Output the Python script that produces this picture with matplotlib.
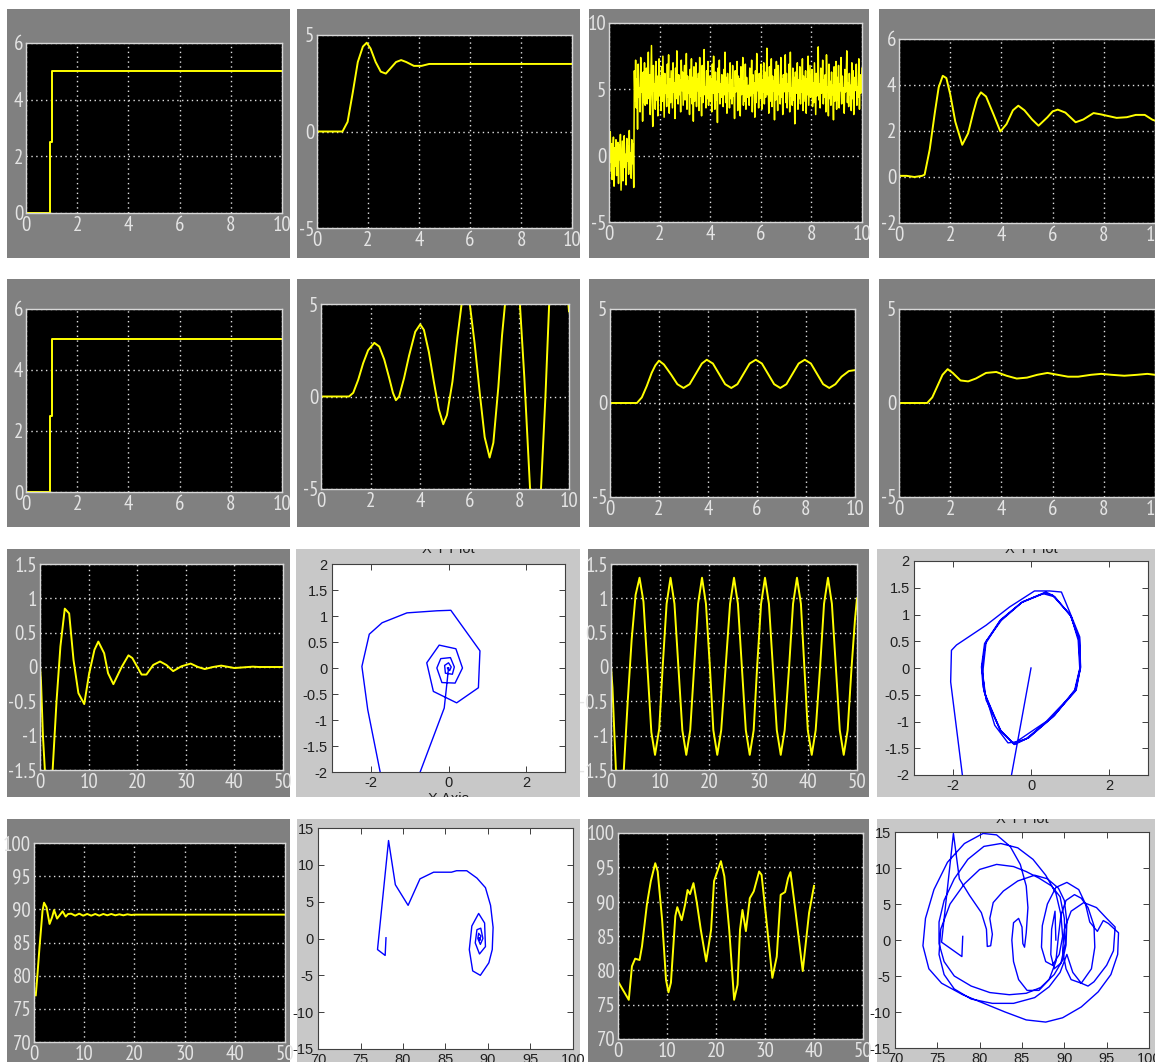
"""Grid of Simulink scope / XY-graph screenshots redrawn with matplotlib."""

import matplotlib
matplotlib.use("Agg")
import matplotlib.pyplot as plt
import numpy as np

W, H = 1155, 1062
plt.rcParams["axes.unicode_minus"] = False

SCOPE_BG = "#808080"
XY_BG = "#c8c8c8"
TRACE = "#ffff00"
XY_LINE = "#0000ff"
SCOPE_FONT = ["Liberation Sans Narrow", "PT Sans Narrow", "Roboto Condensed",
              "Archivo Narrow", "DejaVu Sans"]
XY_FONT = ["Liberation Sans", "DejaVu Sans"]

# ---- data ----
step_t = [0, 0.94, 0.94, 1.0, 1.0, 10]
step_y = [0, 0, 2.5, 2.5, 5, 5]

pid_t = [0, 1.0, 1.2, 1.4, 1.6, 1.8, 1.95, 2.1, 2.3, 2.5, 2.7, 2.9, 3.1, 3.3,
         3.5, 3.8, 4.1, 4.4, 4.8, 5.2, 10]
pid_y = [0, 0, 0.5, 2.0, 3.6, 4.4, 4.6, 4.3, 3.6, 3.1, 3.0, 3.3, 3.6, 3.7,
         3.6, 3.4, 3.4, 3.5, 3.5, 3.5, 3.5]

noise_pre = [0.3, -1.2, 1.8, -0.5, 0.9, -1.8, 0.2, 1.4, -2.3, 0.6,
             -0.8, 1.2, -1.5, 0.4, 1.0, -2.1, 0.8, -0.3, 1.6, -2.6,
             -0.7, 1.1, -1.9, 0.5, 1.5, -0.9, 0.1, -2.2, 1.3, -0.4,
             0.7, -1.4, 1.9, -1.0, 0.2, -1.7, 1.2, -0.6, 0.9, -2.4]
noise_post = [
    6.4, 4.1, 7.2, 3.6, 5.8, 2.0, 6.9, 4.4, 5.1, 3.3, 7.4, 4.8, 5.9, 2.6, 6.3, 4.0, 7.0, 3.8, 5.5, 6.6,
    3.9, 5.2, 7.8, 4.3, 6.1, 3.1, 5.7, 8.3, 4.6, 2.2, 6.8, 4.9, 5.4, 3.5, 7.1, 4.2, 6.0, 3.0, 5.6, 7.3,
    4.5, 5.9, 3.4, 6.7, 4.1, 7.5, 5.0, 2.9, 6.2, 4.7, 5.3, 3.7, 6.9, 4.4, 7.6, 3.2, 5.8, 4.0, 6.4, 5.1,
    3.6, 7.0, 4.8, 5.5, 2.8, 6.6, 4.3, 7.9, 5.2, 3.9, 6.1, 4.6, 5.7, 3.3, 7.2, 4.9, 6.3, 3.8, 5.4, 6.8,
    4.2, 5.0, 7.7, 3.5, 6.0, 4.7, 5.6, 3.1, 6.5, 4.4, 7.3, 3.9, 5.9, 2.6, 6.7, 4.1, 5.3, 7.0, 3.7, 5.8,
    4.9, 6.2, 3.4, 7.4, 4.5, 5.1, 3.0, 6.8, 4.0, 5.7, 8.0, 4.6, 5.2, 3.6, 6.4, 4.3, 7.1, 3.8, 5.5, 6.0,
    4.1, 5.8, 3.3, 6.9, 4.7, 7.5, 5.0, 3.5, 6.3, 4.2, 5.6, 2.5, 6.6, 4.8, 7.2, 3.9, 5.4, 4.4, 6.1, 5.2,
    3.7, 6.5, 4.6, 7.8, 4.0, 5.9, 3.2, 6.2, 4.9, 5.3, 3.6, 7.0, 4.3, 5.7, 3.9, 6.8, 4.5, 5.1, 2.8, 6.4,
    4.8, 5.5, 7.1, 3.4, 6.0, 4.2, 5.8, 3.0, 6.7, 4.6, 5.2, 7.4, 3.8, 5.6, 4.1, 6.9, 3.5, 5.9, 4.4, 5.0,
    5.3, 3.8, 6.6, 4.5, 5.0, 7.2, 3.3, 6.1, 4.7, 5.5, 2.9, 6.4, 4.0, 7.7, 4.9, 5.8, 3.6, 6.2, 4.3, 5.1,
    6.9, 3.5, 5.7, 4.8, 7.0, 3.9, 6.3, 4.4, 5.2, 8.1, 4.6, 5.9, 3.2, 6.7, 4.1, 5.4, 7.3, 3.7, 6.0, 4.9,
    5.6, 2.7, 6.5, 4.2, 7.1, 5.0, 3.4, 6.8, 4.6, 5.3, 3.9, 7.4, 4.4, 5.8, 3.1, 6.1, 4.8, 5.5, 7.6, 4.0,
    6.2, 3.6, 5.4, 4.9, 6.9, 3.3, 7.8, 4.5, 5.1, 3.8, 6.6, 4.2, 5.9, 2.4, 6.3, 4.7, 5.2, 7.0, 3.5, 5.7,
    4.3, 6.7, 3.9, 5.6, 4.8, 7.3, 3.4, 6.0, 5.0, 4.1, 6.4, 3.2, 5.8, 4.6, 7.5, 3.8, 5.3, 6.8, 4.4, 5.1,
    6.5, 3.7, 5.5, 4.0, 7.0, 4.9, 3.1, 6.2, 4.5, 5.9, 8.2, 4.2, 5.4, 3.6, 6.6, 4.7, 5.0, 7.2, 3.9, 5.7,
    4.4, 6.1, 3.3, 7.6, 4.8, 5.2, 3.0, 6.9, 4.3, 5.6, 3.8, 6.3, 4.6, 5.3, 2.7, 6.7, 4.1, 5.8, 7.1, 3.5,
    5.9, 4.2, 6.8, 3.6, 5.4, 4.9, 7.4, 3.9, 6.0, 4.5, 5.1, 3.2, 6.5, 4.8, 5.7, 7.9, 4.0, 5.5, 3.7, 6.2,
    4.6, 5.3, 3.4, 7.0, 4.3, 6.4, 3.1, 5.9, 4.9, 5.6, 6.9, 3.8, 5.2, 4.4, 7.3, 3.5, 6.1, 4.7, 5.0, 6.6,
]
noise_y = noise_pre + noise_post
noise_t = np.linspace(0, 10, len(noise_y))  # scope sample times

damp_t = [0, 0.3, 0.6, 0.9, 1.0, 1.2, 1.4, 1.55, 1.71, 1.85, 2.0, 2.2, 2.47, 2.7, 2.9,
          3.05, 3.2, 3.4, 3.7, 3.96, 4.2, 4.45, 4.66, 4.9, 5.2, 5.45, 5.8, 6.0, 6.2,
          6.5, 6.9, 7.2, 7.6, 7.9, 8.5, 8.9, 9.25, 9.6, 9.9, 10]
damp_y = [0.05, 0.05, 0.0, 0.05, 0.1, 1.2, 2.8, 3.9, 4.4, 4.3, 3.6, 2.4, 1.4, 1.9, 2.8,
          3.4, 3.68, 3.5, 2.7, 1.98, 2.3, 2.9, 3.1, 2.9, 2.5, 2.23, 2.6, 2.85, 2.93,
          2.8, 2.38, 2.5, 2.78, 2.72, 2.57, 2.6, 2.7, 2.7, 2.49, 2.45]

grow_t = [0, 1.13, 1.3, 1.5, 1.7, 1.9, 2.15, 2.35, 2.55, 2.75, 2.9, 3.02, 3.15, 3.35,
          3.55, 3.8, 4.0, 4.15, 4.35, 4.55, 4.75, 4.93, 5.08, 5.3, 5.5, 5.67, 5.85,
          6.0, 6.2, 6.4, 6.6, 6.8, 6.95, 7.15, 7.3, 7.42, 7.6, 7.75, 7.9, 8.02, 8.2,
          8.43, 8.6, 8.7, 8.87, 9.05, 9.2, 9.4, 9.6, 9.8, 10.0]
grow_y = [0, 0, 0.2, 0.9, 1.8, 2.5, 2.9, 2.7, 2.0, 1.0, 0.2, -0.2, 0.0, 1.0,
          2.2, 3.5, 3.9, 3.6, 2.4, 0.8, -0.7, -1.5, -1.0, 0.8, 3.2, 5.0, 5.6,
          5.0, 2.8, 0.2, -2.2, -3.3, -2.5, 0.5, 3.3, 5.0, 7.2, 7.6, 6.8, 5.0, 1.0,
          -5.0, -7.5, -7.8, -5.0, 0.0, 5.0, 8.5, 9.5, 8.0, 4.6]

cyc_t = [0, 1.1, 1.3, 1.5, 1.7, 1.85, 2.0, 2.2, 2.5, 2.75, 3.0, 3.25, 3.5, 3.75, 3.95,
         4.2, 4.45, 4.7, 4.95, 5.2, 5.45, 5.7, 5.95, 6.2, 6.45, 6.7, 6.95, 7.2, 7.45,
         7.7, 7.95, 8.2, 8.45, 8.7, 8.95, 9.2, 9.45, 9.75, 10]
cyc_y = [0, 0, 0.3, 0.9, 1.6, 2.0, 2.25, 2.05, 1.5, 1.0, 0.8, 1.0, 1.55, 2.1, 2.3,
         2.1, 1.55, 1.0, 0.8, 1.0, 1.55, 2.1, 2.3, 2.1, 1.55, 1.0, 0.8, 1.0, 1.55,
         2.1, 2.3, 2.1, 1.55, 1.0, 0.8, 1.0, 1.4, 1.7, 1.75]

settle_t = [0, 1.1, 1.3, 1.5, 1.7, 1.9, 2.1, 2.4, 2.7, 3.0, 3.4, 3.8, 4.2, 4.6, 5.0,
            5.4, 5.8, 6.2, 6.6, 7.0, 7.5, 7.9, 8.3, 8.8, 9.3, 9.7, 10]
settle_y = [0, 0, 0.3, 0.9, 1.5, 1.8, 1.6, 1.2, 1.15, 1.3, 1.6, 1.65, 1.45, 1.3, 1.35,
            1.5, 1.6, 1.5, 1.4, 1.4, 1.5, 1.55, 1.5, 1.45, 1.5, 1.55, 1.5]

osc_t = [0, 0.2, 0.6, 1.0, 1.8, 2.6, 3.4, 4.2, 5.1, 6.0, 6.9, 7.9, 9.1, 10.1, 11.2,
         12.0, 13.2, 14.0, 15.1, 16.8, 18.2, 19.0, 20.9, 21.9, 23.3, 24.7, 26.0,
         27.4, 29.1, 31.0, 32.5, 33.9, 35.6, 37.3, 40.0, 43.8, 45.0, 50.0]
osc_y = [0, -0.2, -1.0, -1.5, -2.3, -1.5, -0.5, 0.3, 0.85, 0.78, 0.1, -0.38, -0.54,
         -0.1, 0.25, 0.37, 0.2, -0.09, -0.25, 0.0, 0.17, 0.13, -0.11, -0.11, 0.03,
         0.08, 0.03, -0.06, 0.01, 0.05, 0.0, -0.03, 0.0, 0.02, -0.015, 0.005, 0.0, 0.0]

sine_t = [0, 0.3, 0.7, 1.0, 1.8, 2.6, 3.4, 4.2, 5.0, 5.8, 6.6, 7.4, 8.2, 8.95, 9.8,
          10.5, 11.3, 12.1, 12.9, 13.7, 14.5, 15.3, 16.1, 16.9, 17.7, 18.5, 19.3,
          20.1, 20.8, 21.6, 22.4, 23.3, 24.2, 25.0, 25.8, 26.6, 27.4, 28.2, 29.0,
          29.7, 30.5, 31.3, 32.1, 32.9, 33.7, 34.5, 35.3, 36.2, 37.0, 37.8, 38.6,
          39.3, 40.0, 40.8, 41.6, 42.5, 43.3, 44.1, 44.9, 45.7, 46.5, 47.3, 48.1,
          48.9, 49.6, 50.0]
sine_y = [0, -0.3, -1.0, -1.5, -2.0, -1.5, -0.5, 0.4, 1.05, 1.3, 0.95, 0.0, -0.95,
          -1.28, -0.9, 0.0, 0.92, 1.3, 0.92, 0.0, -0.92, -1.28, -0.92, 0.0, 0.92,
          1.3, 0.92, 0.0, -0.92, -1.28, -0.92, 0.0, 0.92, 1.3, 0.92, 0.0, -0.92,
          -1.28, -0.92, 0.0, 0.92, 1.3, 0.92, 0.0, -0.92, -1.28, -0.92, 0.0, 0.92,
          1.3, 0.92, 0.0, -0.92, -1.28, -0.92, 0.0, 0.92, 1.3, 0.92, 0.0, -0.92,
          -1.28, -0.92, 0.0, 0.7, 1.0]

spiral_x = [0, -0.03, -0.11, -0.73, -1.2, -1.76, -2.08, -2.23, -2.04, -1.71, -1.07,
            -0.30, 0.06, 0.81, 0.77, 0.21, -0.39, -0.56, -0.24, 0.19, 0.36, 0.17,
            -0.17, -0.3, -0.2, 0.05, 0.15, 0.1, -0.08, -0.1, 0.0, 0.07, 0.03, -0.03, 0.0]
spiral_y = [0, -0.22, -0.77, -2.0, -3.0, -2.0, -0.80, 0.03, 0.65, 0.87, 1.06,
            1.10, 1.11, 0.33, -0.38, -0.67, -0.45, 0.10, 0.44, 0.37, 0.0, -0.29,
            -0.28, 0.0, 0.18, 0.2, 0.02, -0.12, -0.1, 0.05, 0.1, 0.02, -0.05, 0.0, 0.0]

cycle_x = [0, -0.5, -0.9, -1.76, -2.06, -2.04, -1.91, -1.15, -0.55, 0.09, 0.48, 0.78,
           0.99, 1.25, 1.27, 1.16, 0.39, -0.38, -0.59, -0.93, -1.23, -1.27, -1.19,
           -0.76, -0.21, 0.31, 0.61, 1.03, 1.21, 1.25, 1.12, 0.61, -0.12, -0.46,
           -0.76, -1.15, -1.24, -1.15, -0.80, -0.25, 0.35, 0.55, 1.00, 1.24, 1.27,
           1.14, 0.55, -0.05, -0.42, -0.80, -1.18, -1.26, -1.17, -0.78, -0.23, 0.38,
           0.58, 1.02, 1.23, 1.26, 1.13, 0.58, -0.08, -0.44, -0.78, -1.2, -1.25]
cycle_y = [0, -2.0, -3.0, -2.0, -0.26, 0.33, 0.43, 0.80, 1.14, 1.44, 1.44, 1.42,
           1.05, 0.58, 0.02, -0.41, -1.0, -1.38, -1.40, -1.07, -0.35, 0.02, 0.46,
           0.89, 1.24, 1.39, 1.33, 0.96, 0.52, -0.01, -0.41, -0.88, -1.32, -1.41,
           -1.19, -0.60, -0.10, 0.50, 0.88, 1.22, 1.40, 1.36, 1.00, 0.55, 0.0,
           -0.43, -0.92, -1.30, -1.43, -1.15, -0.50, 0.0, 0.45, 0.90, 1.23, 1.42,
           1.35, 0.98, 0.53, 0.0, -0.42, -0.90, -1.31, -1.42, -1.17, -0.45, 0.0]

temp_t = [0, 0.35, 0.7, 1.1, 1.7, 2.0, 2.5, 3.1, 3.6, 4.0, 4.6, 5.1, 5.7, 6.3, 6.8,
          7.4, 8.2, 9.0, 9.8, 10.6, 11.4, 12.2, 13.0, 13.8, 14.6, 15.4, 16.2, 17.0,
          17.8, 18.6, 19.4, 20.0, 50.0]
temp_y = [77.5, 77.0, 80.3, 84.3, 89.8, 91.0, 90.3, 87.8, 88.8, 89.9, 88.6, 89.1,
          89.7, 88.9, 89.3, 89.35, 89.05, 89.35, 89.05, 89.3, 89.05, 89.3, 89.05,
          89.3, 89.1, 89.3, 89.1, 89.25, 89.1, 89.25, 89.15, 89.2, 89.2]

phase_x = [78.0, 77.9, 77.0, 78.3, 79.1, 80.6, 82.0, 83.6, 85.7, 86.3, 87.5, 88.7,
           89.7, 90.3, 90.6, 90.5, 90.1, 89.1, 88.2, 87.8, 88.1, 88.9, 89.6, 89.7,
           89.0, 88.5, 88.7, 89.15, 89.4, 89.1, 88.8, 88.9, 89.15, 89.05, 88.95, 89.0]
phase_y = [0.1, -2.3, -1.5, 13.3, 7.3, 4.5, 8.1, 9.0, 9.0, 9.2, 9.2, 8.2,
           6.9, 4.5, 1.5, -1.5, -3.3, -5.0, -4.4, -1.5, 1.7, 3.4, 2.1, -1.1,
           -2.1, -0.6, 1.2, 1.4, 0.0, -0.8, 0.0, 0.7, 0.35, -0.25, 0.1, 0.0]

chaos_t = [0, 0.8, 2.2, 2.85, 3.5, 4.4, 4.9, 5.9, 6.7, 7.6, 8.1, 9.0, 9.8, 10.3,
           10.8, 11.7, 12.1, 13.0, 13.7, 14.2, 14.7, 15.4, 16.1, 16.9, 18.0, 19.0,
           19.6, 21.0, 21.7, 22.7, 23.7, 24.4, 24.9, 25.4, 26.1, 26.9, 27.7, 28.8,
           29.3, 30.2, 31.5, 32.4, 33.2, 34.1, 34.7, 35.2, 36.1, 37.7, 39.0, 40.0]
chaos_y = [78.4, 77.4, 75.7, 80.6, 81.7, 81.5, 83.5, 89.6, 93.0, 95.6, 94.4, 87.4,
           78.6, 76.8, 78.2, 87.9, 89.2, 87.3, 89.6, 91.7, 91.1, 92.7, 89.8, 85.9,
           81.3, 85.9, 93.0, 95.9, 93.7, 85.9, 75.7, 77.9, 85.9, 88.8, 85.7, 90.5,
           91.5, 94.4, 93.9, 87.9, 78.9, 82.0, 91.0, 91.4, 93.4, 94.3, 89.3, 79.9,
           88.4, 92.3]

attr_x = [78.0, 77.9, 75.5, 76.9, 77.6, 78.8, 80.2, 80.8, 80.9, 81.3, 81.5, 81.2,
          81.6, 82.8, 84.5, 86.5, 88.0, 89.3, 90.0, 90.3, 90.2, 89.8, 88.8, 87.2,
          85.5, 83.5, 81.2, 79.0, 77.0, 75.8, 75.2, 75.2, 75.8, 77.0, 78.6, 80.5,
          82.5, 84.5, 86.3, 87.8, 89.0, 89.6, 89.8, 89.4, 88.6, 87.8, 87.3, 87.4,
          88.0, 89.0, 90.3, 91.7, 92.5, 93.0, 93.9, 94.6, 95.2, 96.4, 96.3, 95.5,
          94.0, 92.0, 89.8, 87.8, 85.5, 83.0, 80.5, 78.0, 75.5, 74.0, 73.3, 73.6,
          74.6, 76.2, 78.2, 80.4, 82.0, 83.6, 84.8, 85.5, 85.7, 85.5, 85.3, 85.1,
          85.0, 84.6, 84.0, 83.8, 84.0, 84.6, 85.6, 87.0, 88.2, 89.0, 89.3, 89.6,
          90.2, 91.2, 92.0, 92.8, 93.5, 93.6, 93.2, 92.0, 90.8, 90.2, 89.8, 90.0,
          90.8, 92.3, 93.8, 95.0, 96.0, 95.8, 95.0, 93.5, 92.8, 92.0, 91.0, 90.3,
          89.5, 88.2, 86.5, 84.0, 81.5, 79.0, 77.0, 75.8, 75.2, 75.4, 76.5, 78.2,
          80.0, 82.0, 84.0, 85.5, 87.0, 88.5, 89.5, 90.0, 90.1, 89.6, 88.8, 88.4,
          88.5, 88.9, 89.0]
attr_y = [0.5, -2.3, -0.3, 14.8, 8.5, 6.2, 3.8, 1.5, -0.9, -0.8, 0.8, 3.0,
          5.2, 6.8, 8.2, 9.0, 8.5, 7.2, 5.5, 2.5, -0.7, -2.8, -4.8, -6.6,
          -7.4, -7.6, -7.3, -6.4, -5.0, -3.0, -0.5, 2.5, 5.5, 8.5, 11.2, 13.0,
          13.4, 12.8, 11.2, 9.0, 6.5, 3.5, 0.5, -2.0, -3.5, -3.0, -1.0, 2.0,
          5.0, 7.3, 8.0, 7.0, 5.0, 2.5, 1.2, 2.7, 2.3, 1.0, -2.0, -4.8,
          -7.2, -9.3, -10.8, -11.4, -11.1, -10.0, -8.8, -7.6, -6.0, -4.0, -0.8, 3.0,
          7.0, 10.8, 13.4, 14.8, 14.6, 13.0, 10.5, 7.5, 4.5, 1.0, -1.0, -0.5,
          1.8, 3.0, 2.4, 0.0, -3.0, -5.5, -7.0, -7.0, -5.5, -3.0, 0.5, 3.5,
          5.5, 6.3, 5.8, 4.5, 2.0, -1.0, -4.0, -6.0, -5.5, -4.0, -1.5, 1.5,
          4.0, 5.2, 4.5, 3.0, 1.8, -1.5, -3.5, -5.8, -6.4, -6.0, -4.5, -2.0,
          -4.5, -6.5, -8.0, -8.8, -8.8, -8.2, -6.8, -4.8, -2.0, 1.5, 5.0, 7.8,
          9.8, 10.5, 10.2, 9.5, 8.6, 7.5, 6.0, 3.0, -0.5, -3.2, -4.0, -2.0,
          1.5, 4.0, 0.0]


def box(fig, x0, y0, x1, y1):
    """Axes placed by pixel corners (origin top-left)."""
    return fig.add_axes([x0 / W, 1 - y1 / H, (x1 - x0) / W, (y1 - y0) / H])


def label(v):
    return f"{v:g}"


def panel_bg(fig, rect, color):
    ax = box(fig, *rect)
    ax.set_facecolor(color)
    ax.set_xlim(rect[0], rect[2])
    ax.set_ylim(rect[3], rect[1])
    ax.set_xticks([])
    ax.set_yticks([])
    for s in ax.spines.values():
        s.set_visible(False)
    return ax


def scope(fig, bg, frame, t, y, xlim, ylim, xticks, yticks, lw=1.4):
    panel_bg(fig, bg, SCOPE_BG)
    ax = box(fig, *frame)
    ax.set_facecolor("black")
    ax.plot(t, y, color=TRACE, lw=lw)
    ax.set_xlim(xlim)
    ax.set_ylim(ylim)
    ax.set_xticks(xticks)
    ax.set_yticks(yticks)
    ax.set_xticklabels([label(v) for v in xticks], fontfamily=SCOPE_FONT, fontsize=15)
    ax.set_yticklabels([label(v) for v in yticks], fontfamily=SCOPE_FONT, fontsize=15)
    ax.tick_params(length=0, colors="#e4e4e4", pad=2)
    ax.grid(True, color="#e0e0e0", ls=(0, (1, 2.5)), lw=1.0)
    for s in ax.spines.values():
        s.set_color("#d8d8d8")
        s.set_linewidth(1.0)
    return ax


def xy_graph(fig, bg, frame, x, y, xlim, ylim, xticks, yticks, title=None, xlabel=None):
    bg_ax = panel_bg(fig, bg, XY_BG)
    ax = box(fig, *frame)
    ax.set_facecolor("white")
    ax.plot(x, y, color=XY_LINE, lw=1.0)
    ax.set_xlim(xlim)
    ax.set_ylim(ylim)
    ax.set_xticks(xticks)
    ax.set_yticks(yticks)
    ax.set_xticklabels([label(v) for v in xticks], fontfamily=XY_FONT, fontsize=10.5)
    ax.set_yticklabels([label(v) for v in yticks], fontfamily=XY_FONT, fontsize=10.5)
    ax.tick_params(direction="in", top=True, right=True, length=4, width=0.6,
                   colors="#202020", pad=3)
    for s in ax.spines.values():
        s.set_color("#404040")
        s.set_linewidth(0.8)
    cx = (frame[0] + frame[2]) / 2
    if title:
        bg_ax.text(cx, bg[1] + 7, title, ha="center", va="bottom", fontsize=10.5,
                   fontfamily=XY_FONT, color="#202020", clip_on=True)
    if xlabel:
        bg_ax.text(cx, bg[3] - 5, xlabel, ha="center", va="top", fontsize=10.5,
                   fontfamily=XY_FONT, color="#202020", clip_on=True)
    return ax


fig = plt.figure(figsize=(W / 100, H / 100), dpi=100, facecolor="white")

t10 = [0, 2, 4, 6, 8, 10]
t50 = [0, 10, 20, 30, 40, 50]

# row 1
scope(fig, (7, 9, 290, 258), (26, 43, 282, 213), step_t, step_y, (0, 10), (0, 6), t10, [0, 2, 4, 6])
scope(fig, (297, 9, 580, 258), (317, 35, 572, 228), pid_t, pid_y, (0, 10), (-5, 5), t10, [-5, 0, 5])
scope(fig, (589, 9, 869, 258), (609, 23, 862, 222), noise_t, noise_y, (0, 10), (-5, 10), t10,
      [-5, 0, 5, 10], lw=1.1)
scope(fig, (879, 9, 1155, 258), (899, 39, 1155, 223), damp_t, damp_y, (0, 10), (-2, 6), t10, [-2, 0, 2, 4, 6])

# row 2
scope(fig, (7, 279, 290, 527), (26, 309, 282, 492), step_t, step_y, (0, 10), (0, 6), t10, [0, 2, 4, 6])
scope(fig, (297, 279, 580, 527), (321, 304, 569, 489), grow_t, grow_y, (0, 10), (-5, 5), t10, [-5, 0, 5])
scope(fig, (589, 279, 869, 527), (610, 309, 855, 497), cyc_t, cyc_y, (0, 10), (-5, 5), t10, [-5, 0, 5])
scope(fig, (879, 279, 1155, 527), (899, 309, 1155, 497), settle_t, settle_y, (0, 10), (-5, 5), t10, [-5, 0, 5])

# row 3
half = [-1.5, -1, -0.5, 0, 0.5, 1, 1.5]
scope(fig, (7, 549, 290, 797), (40, 564, 283, 770), osc_t, osc_y, (0, 50), (-1.5, 1.5), t50, half)
xy_graph(fig, (296, 549, 580, 797), (332, 564, 565, 772), spiral_x, spiral_y, (-3, 3), (-2, 2),
         [-2, 0, 2], [-2, -1.5, -1, -0.5, 0, 0.5, 1, 1.5, 2], title="X Y Plot", xlabel="X Axis")
scope(fig, (588, 549, 869, 797), (611, 564, 857, 770), sine_t, sine_y, (0, 50), (-1.5, 1.5), t50, half)
xy_graph(fig, (877, 549, 1155, 797), (914, 561, 1148, 775), cycle_x, cycle_y, (-3, 3), (-2, 2),
         [-2, 0, 2], [-2, -1.5, -1, -0.5, 0, 0.5, 1, 1.5, 2], title="X Y Plot")

# row 4
t_deg = [70, 75, 80, 85, 90, 95, 100]
scope(fig, (7, 819, 290, 1062), (34, 843, 285, 1042), temp_t, temp_y, (0, 50), (70, 100), t50, t_deg)
xy_graph(fig, (297, 819, 580, 1062), (318, 828, 573, 1049), phase_x, phase_y, (70, 100), (-15, 15),
         t_deg, [-15, -10, -5, 0, 5, 10, 15])
scope(fig, (588, 819, 869, 1062), (618, 833, 863, 1039), chaos_t, chaos_y, (0, 50), (70, 100), t50, t_deg)
xy_graph(fig, (877, 819, 1155, 1062), (895, 832, 1149, 1048), attr_x, attr_y, (70, 100), (-15, 15),
         t_deg, [-15, -10, -5, 0, 5, 10, 15], title="X Y Plot")

fig.savefig("out.png", dpi=100, facecolor="white")
